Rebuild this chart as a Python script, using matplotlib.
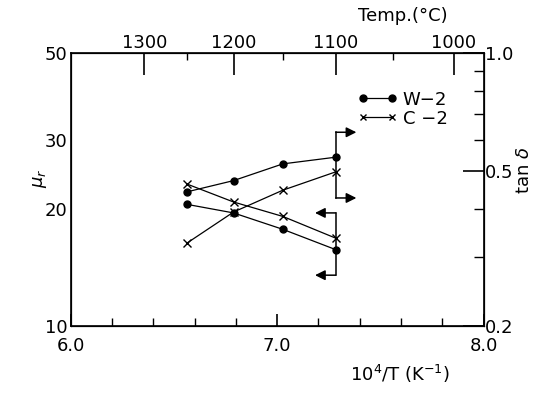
import numpy as np
import matplotlib
matplotlib.use("Agg")
import matplotlib.pyplot as plt
from matplotlib.ticker import FixedLocator, NullFormatter, NullLocator
from matplotlib.lines import Line2D

# ---- data ----
temps_C = np.array([1250, 1200, 1150, 1100])
inv_T = 1e4 / (temps_C + 273.0)
mu_W2 = [20.5, 19.5, 17.7, 15.7]
mu_C2 = [23.1, 20.8, 19.1, 16.8]
tan_W2 = [0.442, 0.472, 0.521, 0.542]
tan_C2 = [0.327, 0.392, 0.446, 0.497]

top_major_C = [1300, 1200, 1100, 1000]
top_minor_C = [1250, 1150, 1050]
left_ticks = [10, 20, 30, 50]
right_major = [0.2, 0.5, 1.0]
right_minor = [0.3, 0.4, 0.6, 0.7, 0.8, 0.9]

plt.rcParams['font.family'] = ['DejaVu Sans']
FS = 13
lw = 0.9

fig = plt.figure(figsize=(5.51, 3.93), dpi=100)
ax = fig.add_axes([0.128, 0.1705, 0.750, 0.6934])
ax.set_xlim(6.0, 8.0)
ax.set_yscale('log')
ax.set_ylim(10, 50)
ax.yaxis.set_major_locator(FixedLocator(left_ticks))
ax.yaxis.set_minor_locator(NullLocator())
ax.set_yticklabels([str(v) for v in left_ticks])
ax.tick_params(axis='y', which='both', length=0, labelsize=FS, pad=2)
ax.xaxis.set_major_locator(FixedLocator([6.0, 7.0, 8.0]))
ax.xaxis.set_minor_locator(FixedLocator([6.2, 6.4, 6.6, 6.8, 7.2, 7.4, 7.6, 7.8]))
ax.set_xticklabels(['6.0', '7.0', '8.0'])
ax.tick_params(axis='x', which='major', direction='in', length=9, width=1.2, labelsize=FS, pad=8)
ax.tick_params(axis='x', which='minor', direction='in', length=6, width=1)
for s in ax.spines.values():
    s.set_linewidth(1.2)

ax2 = ax.twinx()
ax2.set_yscale('log')
ax2.set_ylim(0.2, 1.0)
ax2.yaxis.set_major_locator(FixedLocator(right_major))
ax2.yaxis.set_minor_locator(FixedLocator(right_minor))
ax2.yaxis.set_minor_formatter(NullFormatter())
ax2.set_yticklabels(['0.2', '0.5', '1.0'])
ax2.tick_params(axis='y', which='major', direction='in', length=15, width=1.2, labelsize=FS, pad=1)
ax2.tick_params(axis='y', which='minor', direction='in', length=7, width=1)

ax3 = ax.twiny()
ax3.set_xlim(6.0, 8.0)
ax3.xaxis.set_major_locator(FixedLocator(1e4 / (np.array(top_major_C) + 273.0)))
ax3.xaxis.set_minor_locator(FixedLocator(1e4 / (np.array(top_minor_C) + 273.0)))
ax3.xaxis.set_minor_formatter(NullFormatter())
ax3.set_xticklabels([str(v) for v in top_major_C])
ax3.tick_params(axis='x', which='major', direction='in', length=16, width=1.2, labelsize=FS, pad=1)
ax3.tick_params(axis='x', which='minor', direction='in', length=5, width=1)

# ---- series ----
ax.plot(inv_T, mu_W2, '-', color='black', lw=lw, marker='o', ms=5)
ax.plot(inv_T, mu_C2, '-', color='black', lw=lw, marker='x', ms=6, mew=1)
ax2.plot(inv_T, tan_W2, '-', color='black', lw=lw, marker='o', ms=5)
ax2.plot(inv_T, tan_C2, '-', color='black', lw=lw, marker='x', ms=6, mew=1)

# ---- bracket arrows ----
xe = inv_T[-1]
def bracket(y_top, y_bot, direction):
    ax.plot([xe, xe], [y_top, y_bot], color='black', lw=1.1)
    for yy in (y_top, y_bot):
        ax.annotate('', xy=(xe + direction * 0.10, yy), xytext=(xe, yy),
                    arrowprops=dict(arrowstyle='-|>,head_length=0.6,head_width=0.3',
                                    color='black', lw=1.1, shrinkA=0, shrinkB=0))
bracket(31.4, 21.3, +1)
bracket(19.5, 13.5, -1)

# ---- legend ----
h1 = Line2D([], [], color='black', lw=lw, marker='o', ms=5)
h2 = Line2D([], [], color='black', lw=lw, marker='x', ms=5, mew=1)
ax2.legend([h1, h2], ['W\u22122', 'C \u22122'], numpoints=2, frameon=False,
           handlelength=2.2, handletextpad=0.3, labelspacing=0.05, fontsize=FS,
           loc='upper left', bbox_to_anchor=(0.655, 0.923))

# ---- labels ----
fig.text(40 / 551, 1 - 178 / 393, r'$\mu_r$', rotation=90, fontsize=FS,
         ha='center', va='center')
fig.text(524 / 551, 1 - 170 / 393, r'tan $\delta$', rotation=90, fontsize=FS,
         ha='center', va='center')
fig.text(400 / 551, 1 - 374 / 393, r'10$^4$/T (K$^{-1}$)', fontsize=FS,
         ha='center', va='center')
fig.text(403 / 551, 1 - 16 / 393, 'Temp.(\u00b0C)', fontsize=FS,
         ha='center', va='center')

fig.savefig('out.png', dpi=100)
